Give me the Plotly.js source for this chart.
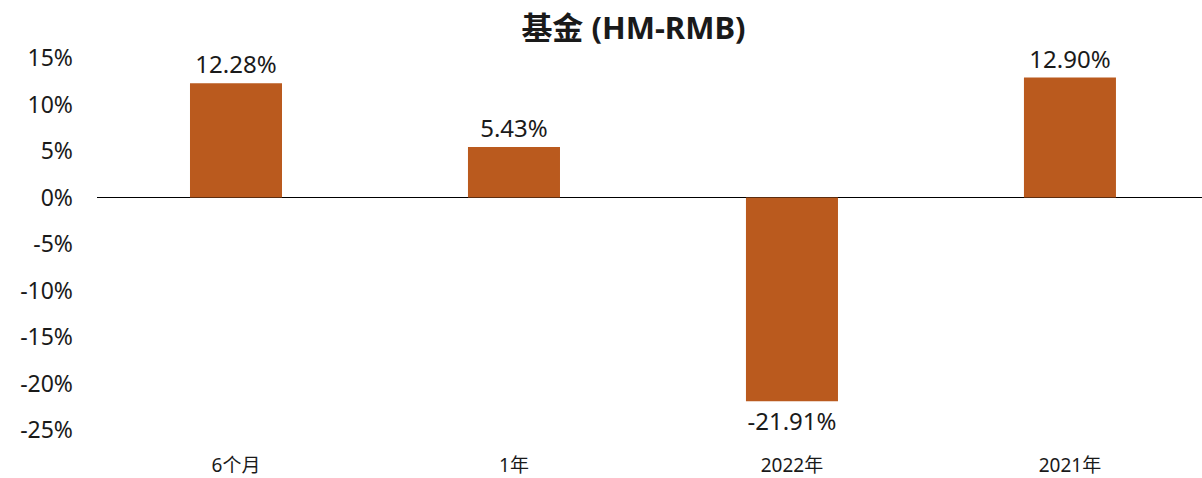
<!DOCTYPE html>
<html><head><meta charset="utf-8">
<script src="https://cdn.plot.ly/plotly-3.0.1.min.js"></script>
<style>html,body{margin:0;padding:0;background:#fff}#chart{width:1202px;height:478px}</style>
</head><body><div id="chart"></div>
<script>
const categories = ["6个月", "1年", "2022年", "2021年"];
const values = [12.28, 5.43, -21.91, 12.90];
const yTickValues = [15, 10, 5, 0, -5, -10, -15, -20, -25];
const chartTitle = "基金 (HM-RMB)";

const FONT = '"Noto Sans", "Noto Sans CJK SC", sans-serif';
const trace = {
  type: 'bar',
  x: categories,
  y: values,
  marker: {color: '#BA5A1E'},
  text: values.map(v => v.toFixed(2) + '%'),
  textposition: 'outside',
  textfont: {family: FONT, size: 24, color: '#1a1a1a'},
  cliponaxis: false,
  hoverinfo: 'none'
};
const layout = {
  width: 1202, height: 478,
  margin: {l: 97, r: 0, t: 58, b: 48},
  paper_bgcolor: '#fff', plot_bgcolor: '#fff',
  bargap: 0.669,
  showlegend: false,
  title: {text: '<b>' + chartTitle + '</b>', font: {family: FONT, size: 31, color: '#1a1a1a'},
          x: 0.527, xanchor: 'center', y: 1 - 28/478, yref: 'container', yanchor: 'middle'},
  xaxis: {type: 'category', range: [-0.5, 3.475], showgrid: false, showline: false, zeroline: false,
          ticks: '', tickfont: {family: FONT, size: 19, color: '#1a1a1a'}, ticklabelstandoff: 22},
  yaxis: {range: [-25, 15], tickvals: yTickValues, ticktext: yTickValues.map(v => v + '%'),
          showgrid: false, showline: false, zeroline: true, zerolinecolor: '#000', zerolinewidth: 1.5,
          ticks: '', tickfont: {family: FONT, size: 23, color: '#1a1a1a'}, ticklabelstandoff: 23}
};
Plotly.newPlot('chart', [trace], layout, {displayModeBar: false, staticPlot: true});
</script></body></html>
